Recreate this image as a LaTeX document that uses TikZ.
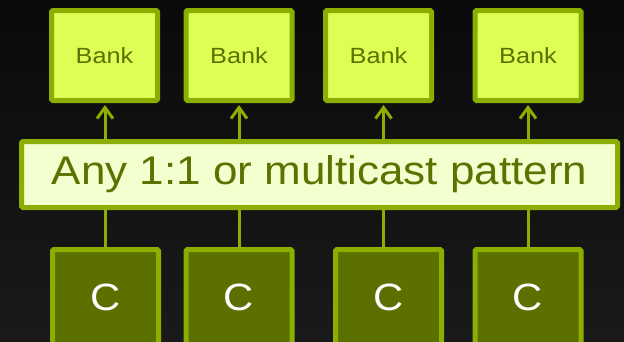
\documentclass[tikz,border=0pt]{standalone}
\usepackage{fontspec}
\usepackage{graphicx}
\setmainfont{Liberation Sans}
\usetikzlibrary{arrows.meta,calc}
\definecolor{rim}{RGB}{140,174,0}
\definecolor{bankfill}{RGB}{221,255,85}
\definecolor{inktext}{RGB}{92,114,0}
\definecolor{fabricfill}{RGB}{242,255,206}
\definecolor{corefill}{RGB}{92,112,0}
\definecolor{bgtop}{RGB}{10,10,10}
\definecolor{bgbottom}{RGB}{26,26,26}
\newcommand{\widen}[2]{\scalebox{#1}[1]{#2}}
\tikzset{box/.style = {rectangle, draw=rim, line width=5pt, rounded corners=1.5pt,
    inner sep=0pt},
  bank/.style = {box, fill=bankfill, text=inktext, minimum width=106pt,
    minimum height=90pt, font=\fontsize{22}{26}\selectfont},
  core/.style = {box, fill=corefill, text=white, minimum width=106pt,
    minimum height=95pt, font=\fontsize{38}{44}\selectfont},
  fabric/.style = {box, fill=fabricfill, text=inktext, minimum width=596pt,
    minimum height=66pt, font=\fontsize{40}{46}\selectfont},
  link/.style = {draw=rim, line width=3pt}}

\begin{document}
\begin{tikzpicture}[x=1pt, y=-1pt]
  \useasboundingbox (0,0) rectangle (624,341);
  \shade[top color=bgtop, bottom color=bgbottom] (0,0) rectangle (624,341);

  \node[bank] (bank1) at (104.5,55.5) {\widen{1.15}{Bank}};
  \node[bank] (bank2) at (239,55.5)   {\widen{1.15}{Bank}};
  \node[bank] (bank3) at (378.5,55.5) {\widen{1.15}{Bank}};
  \node[bank] (bank4) at (528,55.5)   {\widen{1.15}{Bank}};

  \node[fabric] (fabric) at (319.5,174.5) {\widen{1.1}{Any 1:1 or multicast pattern}};

  \node[core] (core1) at (105.5,297) {\widen{1.1}{C}};
  \node[core] (core2) at (239,297)   {\widen{1.1}{C}};
  \node[core] (core3) at (388.5,297) {\widen{1.1}{C}};
  \node[core] (core4) at (528,297)   {\widen{1.1}{C}};

  \foreach \i in {1,...,4} {
    \coordinate (col\i) at ($(bank\i.south)!0.5!(core\i.north)$);
    \draw[link, -{Straight Barb[length=11pt, width=16pt]}, shorten >=2pt]
      (fabric.north -| col\i) -- (bank\i.south -| col\i);
    \draw[link] (core\i.north -| col\i) -- (fabric.south -| col\i);
  }
\end{tikzpicture}
\end{document}
